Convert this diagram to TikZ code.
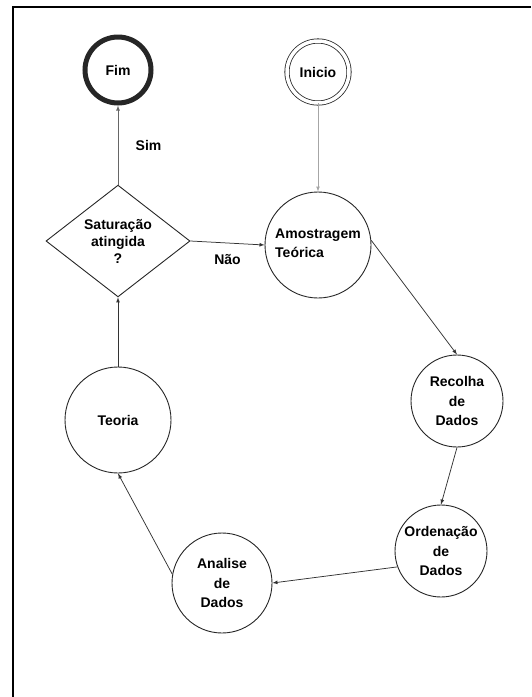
\documentclass[tikz,border=0pt]{standalone}
\usepackage{fontspec}
\setmainfont{Liberation Sans}
\usetikzlibrary{shapes.geometric}

\begin{document}
\begin{tikzpicture}[x=1pt,y=-1pt,
	estado/.style={circle, draw=black!85, line width=0.9pt, inner sep=0pt, align=center, font=\fontsize{14}{19.5}\selectfont\bfseries},
	seta/.style={-latex, draw=black!80, line width=0.75pt},
	rotulo/.style={font=\fontsize{14}{19}\selectfont\bfseries}]
		\useasboundingbox (0,0) rectangle (531,697);
		\draw[line width=2pt] (13,697) -- (13,7) -- (531,7);
		\node[estado, minimum size=66pt, line width=5pt] (fim) at (118,70) {Fim};
		\node[estado, minimum size=62pt, double, double distance=3.5pt, line width=0.8pt] (inicio) at (318,72) {Inicio};
		\node[estado, minimum size=106pt, align=left, text depth=4pt] (amostra) at (318,245) {Amostragem\\Teórica};
		\node[diamond, draw=black!85, line width=0.9pt, minimum width=144pt, minimum height=72pt, inner sep=0pt, align=center, font=\fontsize{14}{17}\selectfont\bfseries] (sat) at (118,241) {Saturação\\atingida\\?};
		\node[estado, minimum size=92pt] (recolha) at (457,401) {Recolha\\de\\Dados};
		\node[estado, minimum size=92pt] (ordena) at (441,551) {Ordenação\\de\\Dados};
		\node[estado, minimum size=100pt] (analise) at (222,583) {Analise\\de\\Dados};
		\node[estado, minimum size=106pt] (teoria) at (118,420) {Teoria};
		\draw[seta, draw=black!35] (inicio) -- (amostra);
		\draw[seta, draw=black!60] (sat) -- (fim) node[rotulo, pos=0.5, right=14pt, black] (sim) {Sim};
		\draw[seta] (sat.east) -- (amostra.west) node[rotulo, pos=0.5, below=8pt, black] (nao) {Não};
		\draw[seta] (amostra.5) -- (recolha.north);
		\draw[seta] (recolha.south) -- (ordena.north);
		\draw[seta] (ordena.200) -- (analise.east);
		\draw[seta] (analise.170) -- (teoria.south);
		\draw[seta] (teoria) -- (sat);
	\end{tikzpicture}
\end{document}
